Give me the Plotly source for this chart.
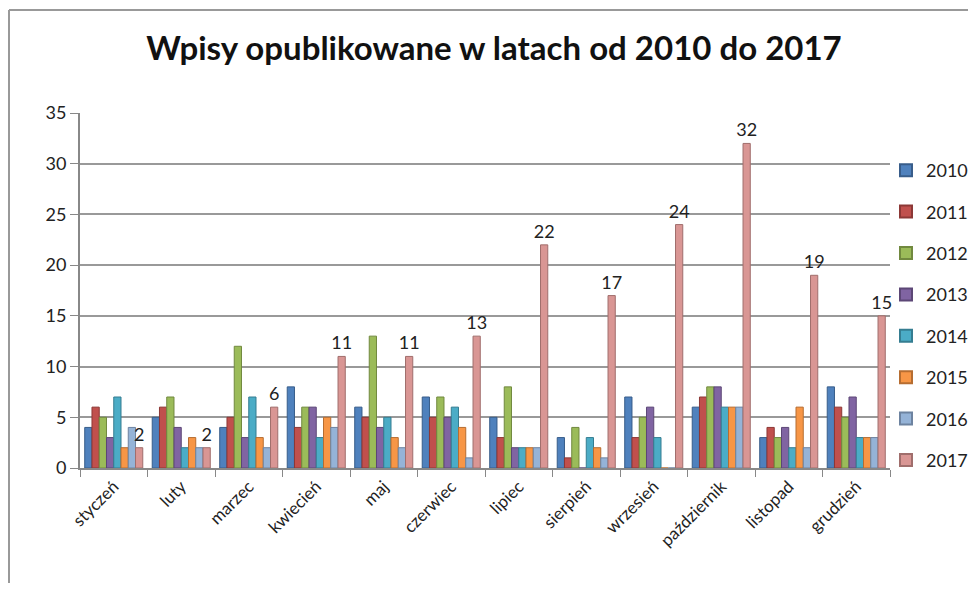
import plotly.graph_objects as go

months = ["styczeń", "luty", "marzec", "kwiecień", "maj", "czerwiec",
          "lipiec", "sierpień", "wrzesień", "październik", "listopad", "grudzień"]
years = ["2010", "2011", "2012", "2013", "2014", "2015", "2016", "2017"]

v2010 = [4, 5, 4, 8, 6, 7, 5, 3, 7, 6, 3, 8]
v2011 = [6, 6, 5, 4, 5, 5, 3, 1, 3, 7, 4, 6]
v2012 = [5, 7, 12, 6, 13, 7, 8, 4, 5, 8, 3, 5]
v2013 = [3, 4, 3, 6, 4, 5, 2, 0, 6, 8, 4, 7]
v2014 = [7, 2, 7, 3, 5, 6, 2, 3, 3, 6, 2, 3]
v2015 = [2, 3, 3, 5, 3, 4, 2, 2, 0, 6, 6, 3]
v2016 = [4, 2, 2, 4, 2, 1, 2, 1, 0, 6, 2, 3]
v2017 = [2, 2, 6, 11, 11, 13, 22, 17, 24, 32, 19, 15]

series = [v2010, v2011, v2012, v2013, v2014, v2015, v2016, v2017]
colors = ["#4F81BD", "#C0504D", "#9BBB59", "#8064A2",
          "#4BACC6", "#F79646", "#95B3D7", "#D99694"]
edges = ["#385D8A", "#8C3836", "#71893F", "#5C4776",
         "#357D91", "#B66D31", "#6D83A0", "#A06E6C"]

fig = go.Figure()
for i in range(len(years)):
    last = i == len(years) - 1
    fig.add_trace(go.Bar(
        x=months, y=series[i], name=years[i],
        marker=dict(color=colors[i], line=dict(color=edges[i], width=1)),
        text=series[i] if last else None,
        textposition="outside" if last else None,
        constraintext="none",
        textfont=dict(size=18, color="#222"),
        cliponaxis=False,
        legendgroup=years[i],
    ))

# page has an 8px body margin: figure coords = screen coords - 8,
# and the figure is kept small enough that no scrollbars appear
W, H = 960, 575
L, R, T, B = 72, 78, 105, 115
pw, ph = W - L - R, H - T - B

def px(x):
    return (x - L) / pw

def py(y):
    return (H - B - y) / ph

fig.update_layout(
    width=W, height=H,
    margin=dict(l=L, r=R, t=T, b=B, autoexpand=False),
    paper_bgcolor="white", plot_bgcolor="white",
    font=dict(family="Lato, Open Sans, sans-serif", size=17, color="#222"),
    title=dict(text="<b>Wpisy opublikowane w latach od 2010 do 2017</b>",
               x=px(486), xanchor="center", xref="paper",
               y=1 - 40 / H, yanchor="middle",
               font=dict(size=33, color="#111")),
    barmode="group", bargap=0.14, bargroupgap=0.0,
    showlegend=True,
    legend=dict(x=px(878), xanchor="left", y=py(144), yanchor="top",
                font=dict(size=18), tracegroupgap=15,
                bgcolor="rgba(0,0,0,0)", itemsizing="constant"),
    xaxis=dict(tickangle=-45, showgrid=False, showline=True,
               linecolor="#888", linewidth=2, ticks="outside",
               tickson="boundaries", ticklen=7, tickcolor="#888",
               tickfont=dict(size=17)),
    yaxis=dict(range=[0, 35], dtick=5, showgrid=True, gridcolor="#999",
               gridwidth=2, showline=True, linecolor="#888", linewidth=2,
               ticks="outside", ticklen=8, tickcolor="#888", zeroline=False,
               tickfont=dict(size=18)),
    shapes=[
        dict(type="line", xref="paper", yref="paper",
             x0=px(1), x1=px(1), y0=py(H + 10), y1=py(2),
             line=dict(color="#999", width=2)),
        dict(type="line", xref="paper", yref="paper",
             x0=px(1), x1=px(W + 10), y0=py(2), y1=py(2),
             line=dict(color="#999", width=2)),
    ],
)

fig.write_html("out.html")
